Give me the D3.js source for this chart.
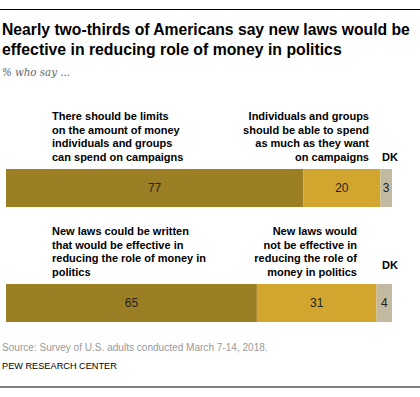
<!DOCTYPE html>
<html><head><meta charset="utf-8">
<script src="https://cdn.jsdelivr.net/npm/d3@7"></script>
<style>
body{margin:0;background:#fff;}
svg{display:block;}
</style></head>
<body>
<svg id="chart" width="420" height="397"></svg>
<script>
const title = ["Nearly two-thirds of Americans say new laws would be",
               "effective in reducing role of money in politics"];
const subtitle = "% who say ...";
const rows = ["limits", "laws"];
const leftValues = [77, 65];
const rightValues = [20, 31];
const dkValues = [3, 4];
const leftLabels = [
  ["There should be limits","on the amount of money","individuals and groups","can spend on campaigns"],
  ["New laws could be written","that would be effective in","reducing the role of money in","politics"]
];
const rightLabels = [
  ["Individuals and groups","should be able to spend","as much as they want","on campaigns"],
  ["New laws would","not be effective in","reducing the role of","money in politics"]
];
const dkLabel = "DK";
const source = "Source: Survey of U.S. adults conducted March 7-14, 2018.";
const credit = "PEW RESEARCH CENTER";
const colors = ["#9c7f24", "#d2a52e", "#c2b9a0"];

const svg = d3.select("#chart");
const W = 420;

svg.append("line").attr("x1",0).attr("x2",W).attr("y1",9.5).attr("y2",9.5)
  .attr("stroke","#000").attr("stroke-width",1);
svg.append("line").attr("x1",0).attr("x2",W).attr("y1",387).attr("y2",387)
  .attr("stroke","#000").attr("stroke-width",1);

const tfont = "'Liberation Sans', Arial, sans-serif";

// fit a text node's font-size so its width equals target
function fit(sel, target){
  sel.each(function(){
    const fs = +this.getAttribute("font-size");
    const len = this.getComputedTextLength();
    this.setAttribute("font-size", (fs*target/len).toFixed(2));
  });
}

const titleWidths = [408, 340];
svg.selectAll("text.title").data(title).join("text").attr("class","title")
  .attr("x",2).attr("y",(d,i)=>35+i*19.5)
  .attr("font-family",tfont).attr("font-weight","bold").attr("font-size",16)
  .attr("fill","#000").text(d=>d)
  .each(function(d,i){ fit(d3.select(this), titleWidths[i]); });

fit(svg.append("text").attr("x",2).attr("y",76)
  .attr("font-family","Georgia, 'DejaVu Serif', serif").attr("font-style","italic")
  .attr("font-size",11.5).attr("fill","#666").text(subtitle), 68);

const x = d3.scaleLinear().domain([0,100]).range([6,392]);
const barTop = {limits:169, laws:284};
const barH = 38;

rows.forEach((r,i)=>{
  const segs = [
    {v:leftValues[i], start:0, c:colors[0]},
    {v:rightValues[i], start:leftValues[i], c:colors[1]},
    {v:dkValues[i], start:leftValues[i]+rightValues[i], c:colors[2]}
  ];
  const g = svg.append("g");
  g.selectAll("rect").data(segs).join("rect")
    .attr("x",d=>x(d.start)).attr("width",d=>x(d.start+d.v)-x(d.start))
    .attr("y",barTop[r]).attr("height",barH).attr("fill",d=>d.c);
  g.selectAll("text").data(segs).join("text")
    .attr("x",d=>(x(d.start)+x(d.start+d.v))/2).attr("y",barTop[r]+23)
    .attr("text-anchor","middle").attr("font-family",tfont).attr("font-size",12)
    .attr("fill","#222").text(d=>d.v);

  const ly0 = barTop[r] - 49;
  svg.append("g").selectAll("text").data(leftLabels[i]).join("text")
    .attr("x",52).attr("y",(d,j)=>ly0+j*13.7)
    .attr("font-family",tfont).attr("font-weight","bold").attr("font-size",11)
    .attr("fill","#000").text(d=>d);
  svg.append("g").selectAll("text").data(rightLabels[i]).join("text")
    .attr("x",i===0?369:357).attr("y",(d,j)=>ly0+j*13.7).attr("text-anchor","end")
    .attr("font-family",tfont).attr("font-weight","bold").attr("font-size",11)
    .attr("fill","#000").text(d=>d);
  svg.append("text").attr("x",382).attr("y",i===0?161:269)
    .attr("font-family",tfont).attr("font-weight","bold").attr("font-size",11)
    .attr("fill","#000").text(dkLabel);
});

fit(svg.append("text").attr("x",2).attr("y",351)
  .attr("font-family",tfont).attr("font-size",10.5).attr("fill","#999").text(source), 266);
fit(svg.append("text").attr("x",2).attr("y",369)
  .attr("font-family",tfont).attr("font-size",10).attr("fill","#000").text(credit), 115);
</script>
</body></html>
